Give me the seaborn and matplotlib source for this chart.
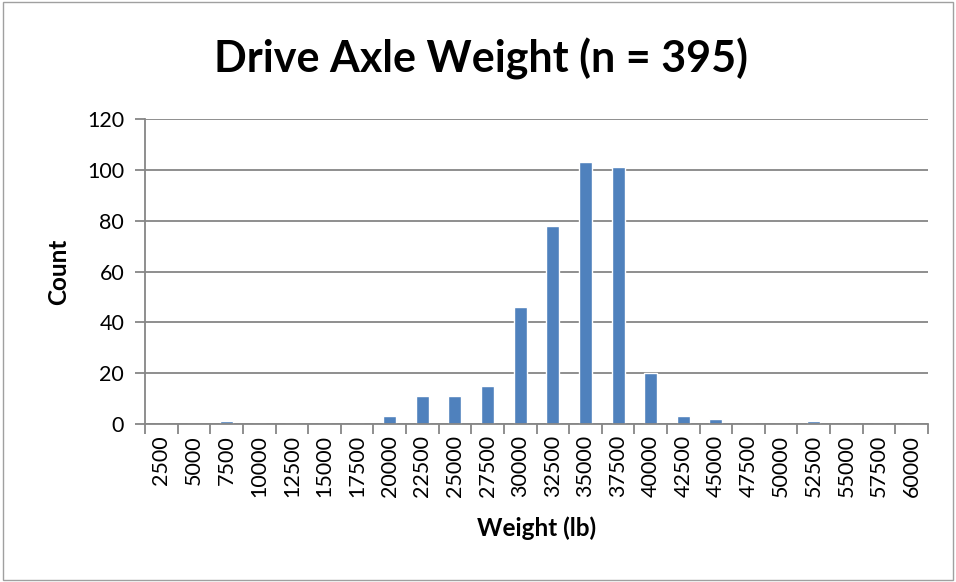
import numpy as np
import pandas as pd
import seaborn as sns
import matplotlib.pyplot as plt
from matplotlib.patches import Rectangle

# histogram bins (lb) and counts
bins = [2500, 5000, 7500, 10000, 12500, 15000, 17500, 20000, 22500, 25000,
        27500, 30000, 32500, 35000, 37500, 40000, 42500, 45000, 47500, 50000,
        52500, 55000, 57500, 60000]
counts = [0, 0, 1, 0, 0, 0, 0, 3, 11, 11,
          15, 46, 78, 103, 101, 20, 3, 2, 0, 0,
          1, 0, 0, 0]
yticks = [0, 20, 40, 60, 80, 100, 120]

df = pd.DataFrame({"bin": [str(b) for b in bins], "count": counts})

sns.set_style("white")
plt.rcParams['font.family'] = ['Lato', 'DejaVu Sans']
plt.rcParams['text.color'] = 'black'
plt.rcParams['xtick.labelcolor'] = 'black'
plt.rcParams['ytick.labelcolor'] = 'black'
plt.rcParams['axes.labelcolor'] = 'black'

fig = plt.figure(figsize=(9.56, 5.82), dpi=100)
ax = fig.add_axes([0.1517, 0.2715, 0.819, 0.524])

sns.barplot(data=df, x="bin", y="count", color="#4F81BD", width=0.4,
            saturation=1, ax=ax, order=df["bin"])

grid_c = "#868686"
ax.set_ylim(0, 120)
ax.set_yticks(yticks)
ax.set_xlim(-0.5, len(bins) - 0.5)
ax.yaxis.grid(True, color=grid_c, linewidth=1.3)
ax.set_axisbelow(True)

for s in ["top", "right"]:
    ax.spines[s].set_visible(False)
for s in ["left", "bottom"]:
    ax.spines[s].set_color(grid_c)
    ax.spines[s].set_linewidth(1.3)

# excel style ticks between categories
ax.set_xticks(np.arange(-0.5, len(bins)), minor=True)
ax.tick_params(axis="x", which="major", length=0, labelsize=15.5,
               labelrotation=90, pad=8)
ax.tick_params(axis="x", which="minor", length=7, width=1.3, color=grid_c,
               direction="out")
ax.tick_params(axis="y", length=7, width=1.3, color=grid_c, direction="out",
               labelsize=15.5, pad=8)
ax.tick_params(bottom=True, left=True, which="both")

ax.set_xlabel("Weight (lb)", fontsize=17.5, fontweight="bold", labelpad=14)
ax.set_ylabel("Count", fontsize=17.5, fontweight="bold", labelpad=12)
fig.suptitle("Drive Axle Weight (n = 395)", fontsize=31, fontweight="bold",
             x=0.503, y=0.935)

# chart frame
fig.patches.append(Rectangle((0.003, 0.003), 0.994, 0.994, transform=fig.transFigure,
                             fill=False, edgecolor="#A0A0A0", linewidth=1))

fig.savefig("out.png", dpi=100)
